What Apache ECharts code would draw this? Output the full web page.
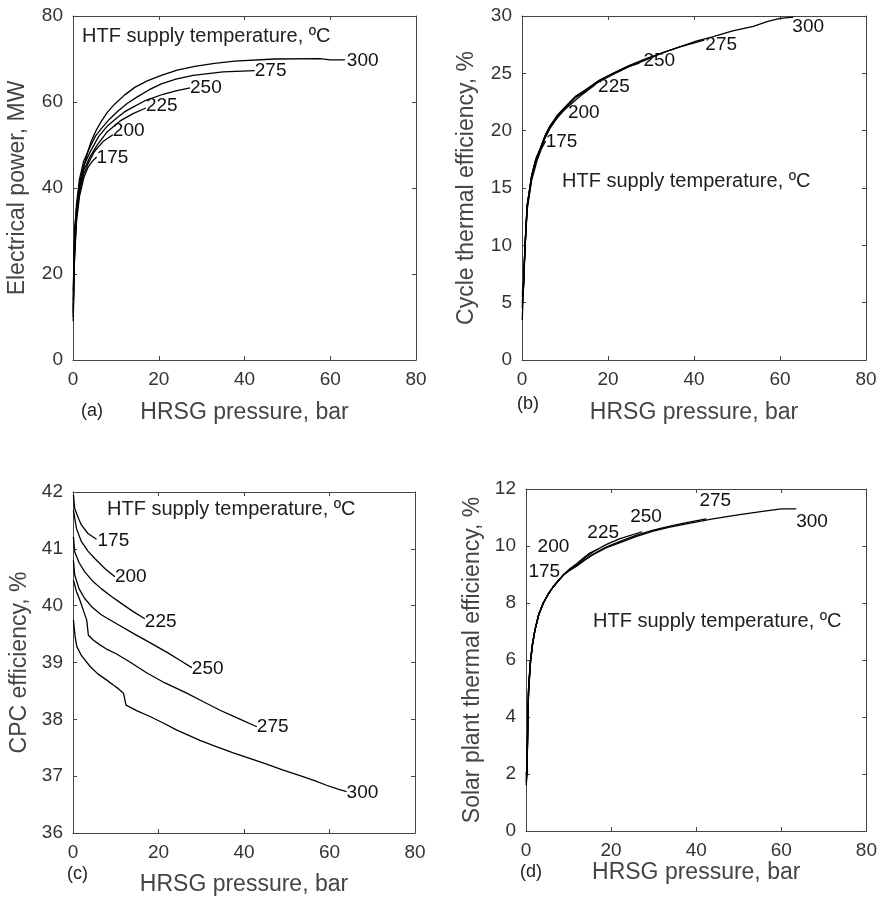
<!DOCTYPE html>
<html>
<head>
<meta charset="utf-8">
<title>HRSG pressure</title>
<script src="https://cdn.jsdelivr.net/npm/echarts@6/dist/echarts.min.js"></script>
<style>
  html, body { margin: 0; padding: 0; background: #fff; }
  #main { width: 880px; height: 900px; }
</style>
</head>
<body>
<div id="main"></div>
<script>
// HTF supply temperature of each curve, degC
var temps = ['175', '200', '225', '250', '275', '300'];
var xTicks = [0, 20, 40, 60, 80];

// (a) electrical power, MW  -- one [pressure, value] list per temperature
var powerTicks = [0, 20, 40, 60, 80];
var power = [
    [[0.05, 9], [0.3, 22], [0.8, 32], [1.5, 38], [2.5, 42.3], [3.5, 44.8], [4.5, 46.2], [5.5, 47.2]],
    [[0.05, 10], [0.3, 23], [0.8, 33], [1.5, 39], [2.5, 43.2], [3.5, 45.6], [5, 48.5], [7, 50.8], [9.3, 52.4]],
    [[0.05, 11], [0.3, 24], [0.8, 34], [1.5, 40], [2.5, 44.2], [4, 47.3], [5.5, 49.8], [8, 53.1], [11, 55.6], [14, 57.3], [17, 58.6]],
    [[0.05, 12], [0.3, 25], [0.8, 35], [1.5, 41], [2.5, 45.2], [4, 48.4], [6, 52], [8, 54.4], [10.5, 56.5], [12, 57.7], [14, 58.8], [17, 60.4], [21, 61.8], [24, 62.6], [27.3, 63.3]],
    [[0.05, 14], [0.3, 27], [0.8, 36], [1.5, 42], [2.5, 46.3], [4, 49.6], [5.2, 52], [6.6, 53.8], [8.5, 56], [10.5, 57.9], [12.7, 59.7], [15, 61.2], [17.7, 62.8], [20.6, 64.2], [24, 65.3], [28, 66.2], [35, 67], [42.4, 67.3]],
    [[0.05, 16], [0.4, 31], [1, 37], [1.6, 40.5], [2.7, 45.7], [3.5, 48.6], [4.3, 51], [5.4, 53.4], [6.6, 55.5], [8, 57.6], [9.7, 59.5], [12, 61.6], [14.4, 63.4], [17.3, 64.9], [20.6, 66.2], [24.3, 67.4], [28.4, 68.3], [33, 69], [37.7, 69.5], [47, 70], [57.6, 70.1], [60, 69.8], [63.4, 69.8]]
];

// (b) cycle thermal efficiency, %
var cycleTicks = [0, 5, 10, 15, 20, 25, 30];
var cycleEff = [
    [[0.05, 3.5], [0.3, 5.8], [0.7, 9.6], [1.2, 13.1], [2.25, 15.7], [3.5, 17.4], [4.5, 18.4], [5.5, 19.1]],
    [[0.05, 4.5], [0.3, 6], [0.7, 9.8], [1.2, 13.3], [2.25, 15.9], [3.2, 17.3], [4.2, 18.2], [5.3, 19.3], [6.5, 20.2], [8, 21], [9.3, 21.6]],
    [[0.05, 5], [0.3, 6.1], [0.7, 9.9], [1.2, 13.4], [2.25, 16], [3.2, 17.4], [4.2, 18.3], [5.3, 19.4], [6.5, 20.3], [8.3, 21.2], [10.4, 22], [13.5, 23], [17, 24]],
    [[0.05, 5.5], [0.3, 6.1], [0.7, 9.9], [1.2, 13.4], [2.25, 16], [3.2, 17.4], [4.2, 18.3], [5.3, 19.4], [6.5, 20.3], [8.3, 21.3], [10.4, 22.2], [12.5, 23], [15, 23.6], [18, 24.4], [21.2, 25], [24, 25.5], [27.3, 25.9]],
    [[0.05, 5.8], [0.3, 6.2], [0.7, 10], [1.2, 13.5], [2.25, 16.1], [3.2, 17.5], [4.2, 18.4], [5.3, 19.5], [6.5, 20.4], [8.3, 21.4], [10.4, 22.2], [12.5, 23], [15, 23.6], [18, 24.4], [21.2, 25], [25, 25.7], [29, 26.3], [32.8, 26.8], [36.7, 27.3], [42.4, 27.9]],
    [[0.05, 6], [0.3, 6.3], [0.7, 10], [1.2, 13.5], [2.25, 16.1], [3.2, 17.5], [4.2, 18.4], [5.3, 19.5], [6.5, 20.4], [8.3, 21.3], [10.4, 22.1], [12.5, 22.9], [15, 23.5], [18, 24.3], [21.2, 24.9], [25, 25.6], [29, 26.2], [32.8, 26.8], [36.7, 27.3], [40.5, 27.8], [44.5, 28.2], [49, 28.7], [53.8, 29.1], [57, 29.5], [60, 29.8], [63.1, 29.9]]
];

// (c) CPC efficiency, %
var cpcTicks = [36, 37, 38, 39, 40, 41, 42];
var cpcEff = [
    [[0.1, 41.95], [0.4, 41.71], [1.2, 41.55], [1.95, 41.42], [3.5, 41.27], [5.5, 41.17]],
    [[0.1, 41.68], [0.8, 41.36], [1.95, 41.13], [3.5, 40.96], [5.1, 40.83], [7.5, 40.65], [9.8, 40.51]],
    [[0.1, 41.21], [0.4, 40.95], [1.4, 40.76], [2.7, 40.6], [4.5, 40.44], [6.6, 40.3], [9, 40.16], [11.3, 40.04], [14, 39.9], [16.8, 39.77]],
    [[0.1, 40.8], [0.4, 40.54], [1.4, 40.3], [2.7, 40.13], [4.5, 39.97], [6.6, 39.84], [10, 39.69], [14.4, 39.5], [18, 39.35], [22.2, 39.17], [25, 39.04], [27.8, 38.91]],
    [[0.1, 40.45], [0.8, 40.25], [1.6, 40.1], [2.5, 39.9], [3.2, 39.75], [3.6, 39.48], [4.8, 39.39], [6.3, 39.31], [8, 39.23], [10.2, 39.15], [13.5, 39], [17.2, 38.82], [21.5, 38.64], [26.6, 38.46], [30.5, 38.31], [34.4, 38.16], [38.5, 38.02], [43, 37.87]],
    [[0.1, 39.75], [0.5, 39.45], [0.9, 39.28], [2, 39.12], [4, 38.93], [5.8, 38.8], [7.9, 38.69], [9.5, 38.6], [10.6, 38.54], [11.8, 38.46], [12.4, 38.25], [15, 38.15], [18, 38.05], [21, 37.94], [24.3, 37.81], [29.7, 37.63], [33.5, 37.52], [37.5, 37.41], [41.5, 37.31], [45.3, 37.21], [49, 37.11], [53.1, 37.01], [56.5, 36.92], [59.3, 36.84], [62, 36.77], [64, 36.73]]
];

// (d) solar plant thermal efficiency, %
var solarTicks = [0, 2, 4, 6, 8, 10, 12];
var solarEff = [
    [[0.05, 1.6], [0.25, 2], [0.4, 3.5], [0.6, 4.8], [1, 5.8], [1.5, 6.5], [2.1, 7.05], [3, 7.6], [4.06, 8], [5.5, 8.4]],
    [[0.05, 1.7], [0.25, 2.1], [0.4, 3.6], [0.6, 4.9], [1, 5.85], [1.5, 6.5], [2.1, 7.05], [3, 7.6], [4.06, 8], [5.2, 8.3], [6.4, 8.57], [7.8, 8.83], [9.3, 9.05]],
    [[0.05, 1.8], [0.25, 2.1], [0.4, 3.6], [0.6, 4.9], [1, 5.85], [1.5, 6.5], [2.1, 7.05], [3, 7.6], [4.06, 8], [5.2, 8.3], [6.4, 8.57], [8.75, 8.98], [10.3, 9.2], [11.9, 9.38], [13.5, 9.58], [15, 9.75], [17, 9.9]],
    [[0.05, 1.9], [0.25, 2.2], [0.4, 3.7], [0.6, 4.95], [1, 5.9], [1.5, 6.55], [2.1, 7.05], [3, 7.6], [4.06, 8], [5.2, 8.3], [6.4, 8.57], [8.75, 8.98], [10.3, 9.17], [11.9, 9.33], [13.8, 9.58], [15.8, 9.8], [18.8, 10.05], [22.1, 10.26], [27.3, 10.5]],
    [[0.05, 2], [0.25, 2.2], [0.4, 3.7], [0.6, 5], [1, 5.9], [1.5, 6.55], [2.1, 7.05], [3, 7.6], [4.06, 8], [5.2, 8.3], [6.4, 8.57], [8.75, 8.98], [10.3, 9.15], [11.9, 9.3], [13.8, 9.52], [15.8, 9.72], [18.8, 9.96], [22.1, 10.16], [26, 10.38], [29.9, 10.56], [33.8, 10.7], [37.7, 10.82], [42.4, 10.95]],
    [[0.05, 2], [0.25, 2.2], [0.4, 3.7], [0.6, 5], [1, 5.9], [1.5, 6.55], [2.1, 7.05], [3, 7.6], [4.06, 8], [5.2, 8.3], [6.4, 8.57], [8.75, 8.98], [10.3, 9.15], [11.9, 9.3], [13.8, 9.5], [15.8, 9.7], [18.8, 9.93], [22.1, 10.12], [26, 10.34], [29.9, 10.52], [33.8, 10.66], [37.7, 10.78], [43.9, 10.95], [50.2, 11.1], [56, 11.22], [60, 11.3], [63.5, 11.3]]
];

var FONT = 'Liberation Sans, Arial, sans-serif';

var panels = [
    {
        curves: power, ticks: powerTicks, yName: 'Electrical power, MW',
        grid: {left: 73, top: 16, width: 343, height: 344},
        xGap: 41, yGap: 44, tag: '(a)', tagPos: [81, 402], notePos: [82, 26],
        offsets: [[0, 1], [0, -4], [0, -2], [0, 0], [0, 0], [2, 1]]
    },
    {
        curves: cycleEff, ticks: cycleTicks, yName: 'Cycle thermal efficiency, %',
        grid: {left: 522, top: 16, width: 344, height: 344},
        xGap: 41, yGap: 44, tag: '(b)', tagPos: [517, 395], notePos: [562, 171],
        offsets: [[0, 1], [6, 0], [3, 2], [4, -2], [1, 5], [-1, 10]]
    },
    {
        curves: cpcEff, ticks: cpcTicks, yName: 'CPC efficiency, %',
        grid: {left: 73, top: 492, width: 342, height: 341},
        xGap: 40, yGap: 42, tag: '(c)', tagPos: [67, 865], notePos: [107, 499],
        offsets: [[1, 2], [0, 0], [0, 3], [0, 1], [0, 0], [0, 1]]
    },
    {
        curves: solarEff, ticks: solarTicks, yName: 'Solar plant thermal efficiency, %',
        grid: {left: 526, top: 489, width: 341, height: 342},
        xGap: 30, yGap: 42, tag: '(d)', tagPos: [520, 863], notePos: [593, 611],
        offsets: [[-21, -20], [-28, -26], [-11, -16], [-12, -15], [-7, -18], [0, 13]]
    }
];

var axisLine = {show: true, onZero: false, lineStyle: {color: '#444', width: 1}};
var axisTick = {show: true, inside: true, length: 4, lineStyle: {color: '#444', width: 1}};

var makeAxis = function (i, ticks, pos, name, gap) {
    var main = (pos === 'bottom' || pos === 'left');
    return {
        type: 'value', gridIndex: i, position: pos,
        min: ticks[0], max: ticks[ticks.length - 1], interval: ticks[1] - ticks[0],
        name: main ? name : '', nameLocation: 'middle', nameGap: gap,
        nameTextStyle: {fontFamily: FONT, fontSize: 23, color: '#444'},
        axisLine: axisLine, axisTick: axisTick,
        axisLabel: {show: main, fontFamily: FONT, fontSize: 19, color: '#333', margin: 10},
        splitLine: {show: false}
    };
};

var grids = [], xAxes = [], yAxes = [], series = [], graphics = [];

panels.forEach(function (p, i) {
    grids.push(p.grid);
    xAxes.push(makeAxis(i, xTicks, 'bottom', 'HRSG pressure, bar', p.xGap));
    xAxes.push(makeAxis(i, xTicks, 'top', '', 0));
    yAxes.push(makeAxis(i, p.ticks, 'left', p.yName, p.yGap));
    yAxes.push(makeAxis(i, p.ticks, 'right', '', 0));

    p.curves.forEach(function (c, j) {
        series.push({
            type: 'line', name: temps[j], data: c,
            xAxisIndex: 2 * i, yAxisIndex: 2 * i,
            symbol: 'none', showSymbol: false, silent: true,
            lineStyle: {color: '#000', width: 1.3},
            endLabel: {
                show: true, distance: 0, offset: p.offsets[j],
                formatter: function (q) { return q.seriesName; },
                fontFamily: FONT, fontSize: 19, color: '#111'
            }
        });
    });

    graphics.push({
        type: 'text', left: p.notePos[0], top: p.notePos[1],
        style: {text: 'HTF supply temperature, ºC', font: '20px ' + FONT, fill: '#222'}
    });
    graphics.push({
        type: 'text', left: p.tagPos[0], top: p.tagPos[1],
        style: {text: p.tag, font: '18px ' + FONT, fill: '#222'}
    });
});

var chart = echarts.init(document.getElementById('main'));
chart.setOption({
    animation: false,
    backgroundColor: '#fff',
    grid: grids,
    xAxis: xAxes,
    yAxis: yAxes,
    series: series,
    graphic: graphics
});
</script>
</body>
</html>
